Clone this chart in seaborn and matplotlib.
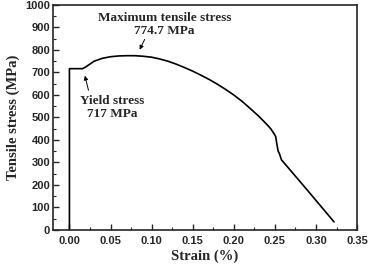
import numpy as np
import pandas as pd
import matplotlib
matplotlib.use("Agg")
import matplotlib.pyplot as plt
import seaborn as sns
from matplotlib.ticker import MultipleLocator

# stress-strain curve
strain = [0.0, 0.0, 0.016, 0.02, 0.03, 0.04, 0.05, 0.06, 0.07, 0.08, 0.09,
          0.10, 0.11, 0.12, 0.13, 0.14, 0.15, 0.16, 0.17, 0.18, 0.19,
          0.20, 0.21, 0.22, 0.23, 0.24, 0.245, 0.249, 0.251, 0.2525, 0.254,
          0.2555, 0.258, 0.29, 0.322]
stress = [0, 717, 717, 725, 750, 763, 770, 773.5, 774.7, 774.5, 772,
          768, 760, 750, 737, 722, 706, 688, 669, 648, 625,
          600, 572, 540, 507, 470, 450, 428, 415, 380, 350,
          340, 312, 175, 36]

max_label = "Maximum tensile stress\n774.7 MPa"
yield_label = "Yield stress\n717 MPa"

df = pd.DataFrame({"strain": strain, "stress": stress})

sns.set_style("ticks")
plt.rcParams["font.family"] = ["Liberation Sans", "DejaVu Sans"]
serif = ["Liberation Serif", "DejaVu Serif"]

fig = plt.figure(figsize=(3.69, 2.68), dpi=100)
ax = fig.add_axes([0.1436, 0.1418, 0.824, 0.8396])

sns.lineplot(data=df, x="strain", y="stress", ax=ax, color="black",
             linewidth=1.2, estimator=None, sort=False)

ax.set_xlim(-0.02, 0.35)
ax.set_ylim(0, 1000)
ax.xaxis.set_minor_locator(MultipleLocator(0.025))
ax.yaxis.set_major_locator(MultipleLocator(100))
ax.yaxis.set_minor_locator(MultipleLocator(50))
xt = np.arange(0, 0.351, 0.05)
ax.set_xticks(xt)
ax.set_xticklabels([f"{v:.2f}" for v in xt])
ax.tick_params(which="both", direction="in", top=False, right=False)
ax.tick_params(which="major", length=4, width=1, labelsize=8, pad=2)
ax.tick_params(axis="x", which="major", pad=4)
ax.tick_params(which="minor", length=2, width=0.8)
for lab in ax.get_xticklabels() + ax.get_yticklabels():
    lab.set_fontweight("bold")
for sp in ax.spines.values():
    sp.set_visible(True)
    sp.set_linewidth(1.2)

ax.set_xlabel("Strain (%)", family=serif, fontweight="bold", fontsize=10.5, labelpad=3)
ax.set_ylabel("Tensile stress (MPa)", family=serif, fontweight="bold", fontsize=10.5, labelpad=4)

arrow = dict(arrowstyle="-|>", color="black", lw=0.7, mutation_scale=6)
ax.annotate("", xy=(0.084, 790), xytext=(0.093, 858), arrowprops=arrow)
ax.annotate("", xy=(0.018, 698), xytext=(0.024, 609), arrowprops=arrow)

ax.text(0.116, 913, max_label, family=serif, fontweight="bold", fontsize=9.5,
        ha="center", va="center", multialignment="center")
ax.text(0.052, 544, yield_label, family=serif, fontweight="bold", fontsize=9.5,
        ha="center", va="center", multialignment="center")

fig.savefig("out.png", dpi=100)
